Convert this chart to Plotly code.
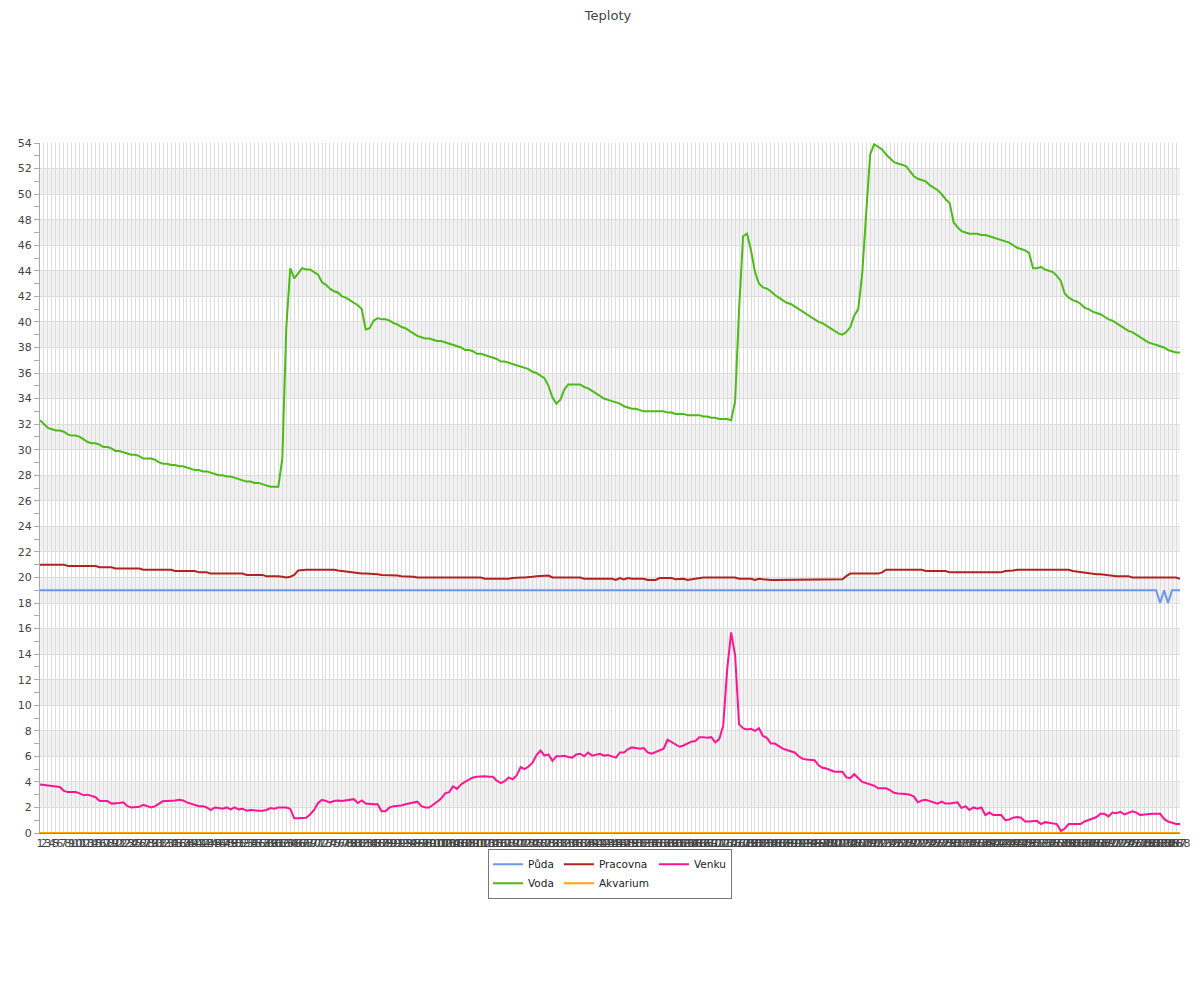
import plotly.graph_objects as go

categories = [str(i) for i in range(1, 289)]

puda = [19.0] * 282 + [18.0, 19.0, 18.0, 19.0, 19.0, 19.0]

voda = [
    32.3, 32.0, 31.7, 31.6, 31.5, 31.5, 31.4, 31.2, 31.1, 31.1,
    31.0, 30.8, 30.6, 30.5, 30.5, 30.4, 30.2, 30.2, 30.1, 29.9,
    29.9, 29.8, 29.7, 29.6, 29.6, 29.5, 29.3, 29.3, 29.3, 29.2,
    29.0, 28.9, 28.9, 28.8, 28.8, 28.7, 28.7, 28.6, 28.5, 28.4,
    28.4, 28.3, 28.3, 28.2, 28.1, 28.0, 28.0, 27.9, 27.9, 27.8,
    27.7, 27.6, 27.5, 27.5, 27.4, 27.4, 27.3, 27.2, 27.1, 27.1,
    27.1, 29.3, 39.5, 44.2, 43.4, 43.8, 44.2, 44.1, 44.1, 43.9,
    43.7, 43.1, 42.9, 42.6, 42.4, 42.3, 42.0, 41.9, 41.7, 41.5,
    41.3, 41.0, 39.4, 39.5, 40.1, 40.3, 40.2, 40.2, 40.1, 39.9,
    39.8, 39.6, 39.5, 39.3, 39.1, 38.9, 38.8, 38.7, 38.7, 38.6,
    38.5, 38.5, 38.4, 38.3, 38.2, 38.1, 38.0, 37.8, 37.8, 37.7,
    37.5, 37.5, 37.4, 37.3, 37.2, 37.1, 36.9, 36.9, 36.8, 36.7,
    36.6, 36.5, 36.4, 36.3, 36.1, 36.0, 35.8, 35.6, 35.0, 34.1,
    33.6, 33.9, 34.7, 35.1, 35.1, 35.1, 35.1, 34.9, 34.8, 34.6,
    34.4, 34.2, 34.0, 33.9, 33.8, 33.7, 33.6, 33.4, 33.3, 33.2,
    33.2, 33.1, 33.0, 33.0, 33.0, 33.0, 33.0, 33.0, 32.9, 32.9,
    32.8, 32.8, 32.8, 32.7, 32.7, 32.7, 32.7, 32.6, 32.6, 32.5,
    32.5, 32.4, 32.4, 32.4, 32.3, 33.8, 41.0, 46.7, 46.9, 45.6,
    43.9, 43.0, 42.7, 42.6, 42.4, 42.1, 41.9, 41.7, 41.5, 41.4,
    41.2, 41.0, 40.8, 40.6, 40.4, 40.2, 40.0, 39.9, 39.7, 39.5,
    39.3, 39.1, 39.0, 39.2, 39.6, 40.5, 41.0, 43.8, 48.5, 53.1,
    53.9, 53.7, 53.5, 53.1, 52.8, 52.5, 52.4, 52.3, 52.2, 51.8,
    51.4, 51.2, 51.1, 51.0, 50.7, 50.5, 50.3, 50.0, 49.6, 49.3,
    47.8, 47.4, 47.1, 47.0, 46.9, 46.9, 46.9, 46.8, 46.8, 46.7,
    46.6, 46.5, 46.4, 46.3, 46.2, 46.0, 45.8, 45.7, 45.6, 45.4,
    44.2, 44.2, 44.3, 44.1, 44.0, 43.9, 43.6, 43.2, 42.2, 41.9,
    41.7, 41.6, 41.4, 41.1, 41.0, 40.8, 40.7, 40.6, 40.4, 40.2,
    40.1, 39.9, 39.7, 39.5, 39.3, 39.2, 39.0, 38.8, 38.6, 38.4,
    38.3, 38.2, 38.1, 38.0, 37.8, 37.7, 37.6, 37.6,
]

pracovna = [
    21.0, 21.0, 21.0, 21.0, 21.0, 21.0, 21.0, 20.9, 20.9, 20.9,
    20.9, 20.9, 20.9, 20.9, 20.9, 20.8, 20.8, 20.8, 20.8, 20.7,
    20.7, 20.7, 20.7, 20.7, 20.7, 20.7, 20.6, 20.6, 20.6, 20.6,
    20.6, 20.6, 20.6, 20.6, 20.5, 20.5, 20.5, 20.5, 20.5, 20.5,
    20.4, 20.4, 20.4, 20.3, 20.3, 20.3, 20.3, 20.3, 20.3, 20.3,
    20.3, 20.3, 20.2, 20.2, 20.2, 20.2, 20.2, 20.1, 20.1, 20.15,
    20.1, 20.05, 20.0, 20.05, 20.2, 20.55, 20.6, 20.6, 20.6, 20.6,
    20.6, 20.6, 20.65, 20.6, 20.6, 20.55, 20.5, 20.5, 20.4, 20.4,
    20.35, 20.3, 20.3, 20.3, 20.3, 20.25, 20.2, 20.2, 20.2, 20.2,
    20.15, 20.1, 20.1, 20.05, 20.05, 20.0, 20.0, 20.0, 20.0, 20.0,
    20.0, 20.0, 20.0, 20.0, 20.0, 20.0, 20.0, 20.0, 20.0, 20.0,
    20.0, 20.0, 19.9, 19.9, 19.9, 19.9, 19.85, 19.9, 19.9, 19.95,
    20.0, 20.0, 20.0, 20.0, 20.05, 20.1, 20.1, 20.15, 20.15, 20.0,
    20.0, 20.0, 20.0, 20.0, 20.0, 20.0, 20.0, 19.9, 19.9, 19.9,
    19.9, 19.9, 19.9, 19.9, 19.9, 19.8, 19.95, 19.85, 19.95, 19.9,
    19.9, 19.9, 19.9, 19.8, 19.8, 19.8, 19.95, 19.95, 19.95, 19.95,
    19.85, 19.85, 19.9, 19.8, 19.85, 19.95, 20.0, 20.0, 20.0, 20.0,
    20.0, 20.0, 20.0, 20.0, 20.0, 20.0, 19.9, 19.9, 19.9, 19.9,
    19.8, 19.9, 19.85, 19.8, 19.8, 19.8, 19.8, 19.8, 19.8, 19.8,
    19.8, 19.8, 19.8, 19.8, 19.8, 19.8, 19.8, 19.8, 19.8, 19.8,
    19.8, 19.8, 19.85, 20.1, 20.3, 20.3, 20.3, 20.3, 20.3, 20.3,
    20.3, 20.3, 20.4, 20.6, 20.6, 20.6, 20.6, 20.6, 20.6, 20.6,
    20.6, 20.6, 20.6, 20.5, 20.5, 20.5, 20.5, 20.5, 20.5, 20.4,
    20.4, 20.4, 20.4, 20.4, 20.4, 20.4, 20.45, 20.4, 20.4, 20.4,
    20.4, 20.4, 20.4, 20.5, 20.5, 20.55, 20.6, 20.6, 20.6, 20.6,
    20.6, 20.6, 20.6, 20.6, 20.6, 20.6, 20.6, 20.6, 20.6, 20.6,
    20.5, 20.45, 20.4, 20.35, 20.3, 20.3, 20.25, 20.25, 20.2, 20.2,
    20.15, 20.1, 20.1, 20.1, 20.1, 20.0, 20.0, 20.0, 20.0, 20.05,
    20.0, 20.0, 20.0, 20.0, 20.0, 20.0, 20.0, 19.9,
]

akvarium = [0.0] * 288

venku = [
    3.8, 3.75, 3.7, 3.7, 3.6, 3.6, 3.3, 3.2, 3.2, 3.2,
    3.1, 2.95, 3.0, 2.9, 2.8, 2.5, 2.5, 2.5, 2.3, 2.3,
    2.35, 2.4, 2.1, 2.0, 2.05, 2.05, 2.2, 2.1, 2.0, 2.1,
    2.3, 2.5, 2.5, 2.5, 2.55, 2.6, 2.55, 2.4, 2.3, 2.15,
    2.1, 2.1, 2.0, 1.8, 2.0, 1.95, 1.9, 2.0, 1.85, 2.0,
    1.85, 1.9, 1.75, 1.8, 1.75, 1.75, 1.75, 1.8, 1.95, 1.9,
    2.0, 2.0, 2.0, 1.9, 1.15, 1.15, 1.2, 1.2, 1.45, 1.8,
    2.35, 2.6, 2.5, 2.4, 2.5, 2.55, 2.5, 2.55, 2.55, 2.65,
    2.35, 2.55, 2.3, 2.25, 2.25, 2.25, 1.7, 1.7, 2.0, 2.1,
    2.1, 2.15, 2.25, 2.3, 2.4, 2.45, 2.1, 2.0, 2.0, 2.2,
    2.45, 2.7, 3.1, 3.2, 3.65, 3.45, 3.8, 4.0, 4.2, 4.35,
    4.4, 4.45, 4.45, 4.4, 4.4, 4.1, 3.9, 4.05, 4.35, 4.2,
    4.5, 5.15, 5.0, 5.2, 5.5, 6.1, 6.45, 6.05, 6.15, 5.65,
    6.0, 6.0, 6.05, 5.95, 5.9, 6.15, 6.2, 6.0, 6.3, 6.05,
    6.15, 6.2, 6.05, 6.1, 6.0, 5.9, 6.3, 6.3, 6.55, 6.7,
    6.65, 6.6, 6.65, 6.3, 6.2, 6.35, 6.5, 6.6, 7.3, 7.1,
    6.95, 6.75, 6.85, 7.0, 7.15, 7.2, 7.5, 7.5, 7.45, 7.5,
    7.1, 7.35, 8.4, 12.8, 15.7, 13.9, 8.5, 8.2, 8.1, 8.15,
    8.0, 8.2, 7.6, 7.45, 7.0, 7.0, 6.8, 6.6, 6.5, 6.4,
    6.3, 6.0, 5.8, 5.75, 5.7, 5.7, 5.3, 5.1, 5.05, 4.9,
    4.8, 4.8, 4.8, 4.35, 4.3, 4.6, 4.3, 4.0, 3.9, 3.8,
    3.7, 3.5, 3.5, 3.5, 3.35, 3.15, 3.1, 3.1, 3.05, 3.0,
    2.85, 2.4, 2.55, 2.6, 2.5, 2.35, 2.3, 2.45, 2.3, 2.3,
    2.35, 2.4, 1.95, 2.1, 1.8, 2.0, 1.9, 2.0, 1.4, 1.6,
    1.4, 1.4, 1.4, 1.0, 1.05, 1.2, 1.25, 1.2, 0.9, 0.9,
    0.9, 0.95, 0.7, 0.85, 0.8, 0.75, 0.7, 0.15, 0.35, 0.7,
    0.7, 0.7, 0.7, 0.9, 1.0, 1.1, 1.25, 1.5, 1.5, 1.3,
    1.6, 1.55, 1.65, 1.45, 1.6, 1.7, 1.6, 1.4, 1.45, 1.5,
    1.5, 1.5, 1.5, 1.1, 0.9, 0.8, 0.7, 0.7,
]

y_ticks = list(range(0, 55, 2))

series = [
    ("Půda", puda, "#6a98ec", "g1"),
    ("Voda", voda, "#4cbb17", "g1"),
    ("Pracovna", pracovna, "#b22222", "g2"),
    ("Akvarium", akvarium, "#ffa500", "g2"),
    ("Venku", venku, "#ff1493", "g3"),
]

FONT = "DejaVu Sans"

fig = go.Figure()
for name, vals, color, grp in series:
    fig.add_trace(go.Scatter(
        x=categories, y=vals, name=name, mode="lines",
        line=dict(color=color, width=2), legendgroup=grp,
    ))

shapes = []
for lo in range(2, 54, 4):
    shapes.append(dict(type="rect", xref="paper", yref="y", x0=0, x1=1,
                       y0=lo, y1=lo + 2, fillcolor="#f2f2f2",
                       line=dict(width=0), layer="below"))

fig.update_layout(
    width=1200, height=1000,
    margin=dict(l=32, r=28, t=135, b=175, autoexpand=False),
    paper_bgcolor="white", plot_bgcolor="white",
    font=dict(family=FONT, size=11, color="#444"),
    title=dict(text="Teploty", x=0.5, xanchor="center", y=0.997,
               yref="container", yanchor="top", pad=dict(t=0, b=0),
               font=dict(family=FONT, size=13, color="#444")),
    shapes=shapes,
    showlegend=True,
    legend=dict(orientation="h", x=0.5, xanchor="center", y=-0.023,
                yanchor="top", traceorder="grouped", tracegroupgap=0,
                itemwidth=30,
                bordercolor="#777", borderwidth=1, bgcolor="white",
                font=dict(family=FONT, size=10.5, color="#222")),
    xaxis=dict(type="category", tickmode="linear", dtick=1, tickangle=0,
               showgrid=True, gridcolor="#dddddd", gridwidth=1,
               showline=True, linecolor="#888", linewidth=1,
               ticks="", tickfont=dict(size=11, color="#444"),
               range=[0, 287], zeroline=False, automargin=False),
    yaxis=dict(range=[0, 54], tickmode="array", tickvals=y_ticks,
               showgrid=True, gridcolor="#dddddd", gridwidth=1,
               showline=True, linecolor="#aaa", linewidth=1,
               ticks="outside", ticklen=5, tickcolor="#aaa",
               minor=dict(dtick=1, ticks="outside", ticklen=5,
                          tickcolor="#aaa", showgrid=False),
               zeroline=False, tickfont=dict(size=11, color="#444"),
               automargin=False),
)

fig.write_html("out.html")
